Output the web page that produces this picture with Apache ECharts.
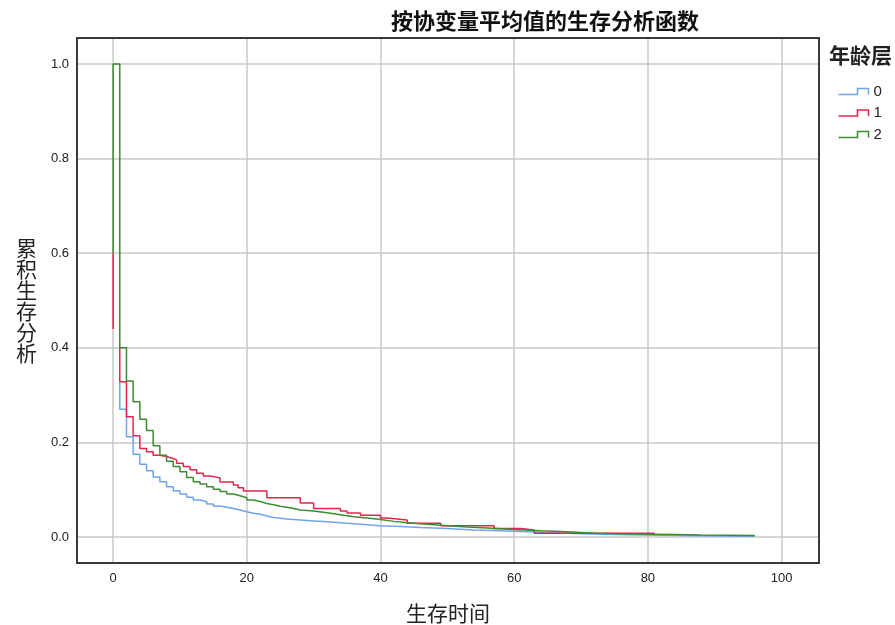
<!DOCTYPE html>
<html><head><meta charset="utf-8">
<script src="https://cdn.jsdelivr.net/npm/echarts@6/dist/echarts.min.js"></script>
<style>html,body{margin:0;padding:0;background:#fff}#c{width:895px;height:625px}</style>
</head><body><div id="c"></div>
<script>
// ---- data ----
const groupNames = ['0', '1', '2'];
const xTickValues = [0, 20, 40, 60, 80, 100];
const yTickValues = [0.0, 0.2, 0.4, 0.6, 0.8, 1.0];

// 年龄层 0 (blue)
const t0 = [1, 1, 2, 3, 4, 5, 6, 7, 8, 9, 10, 11, 12, 13, 14, 15, 16, 17, 18, 19, 20, 21, 22, 23, 24, 26, 28, 30, 32, 34, 36, 38, 40, 43, 46, 50, 54, 58, 62, 66, 70, 75, 80, 85, 90, 96];
const s0 = [0.328, 0.270, 0.212, 0.175, 0.154, 0.140, 0.127, 0.117, 0.106, 0.098, 0.091, 0.084, 0.078, 0.0745, 0.070, 0.0655, 0.063, 0.060, 0.057, 0.0535, 0.050, 0.048, 0.0445, 0.041, 0.038, 0.036, 0.034, 0.032, 0.030, 0.028, 0.026, 0.024, 0.022, 0.020, 0.018, 0.015, 0.013, 0.011, 0.009, 0.007, 0.005, 0.004, 0.003, 0.002, 0.0015, 0.001];

// 年龄层 1 (red) - first short piece at t=0, then the main curve
const t1a = [0, 0];
const s1a = [0.60, 0.44];
const t1 = [1, 1, 2, 3, 4, 5, 6, 7, 8, 9, 9.5, 10.5, 11.5, 12.5, 13.5, 14.5, 16, 18, 18.7, 19.5, 23, 28, 30, 34, 35, 37, 40, 41, 44, 49, 57, 61, 63, 81];
const s1 = [0.400, 0.328, 0.254, 0.214, 0.187, 0.180, 0.173, 0.170, 0.166, 0.163, 0.156, 0.149, 0.142, 0.135, 0.129, 0.125, 0.116, 0.110, 0.104, 0.097, 0.083, 0.072, 0.060, 0.055, 0.0505, 0.046, 0.040, 0.036, 0.029, 0.024, 0.018, 0.015, 0.008, 0.008];

// 年龄层 2 (green)
const t2 = [0, 0, 1, 2, 3, 4, 5, 6, 7, 8, 9, 10, 11, 12, 13, 14, 15, 16, 17, 18, 19, 20, 21, 22, 23, 24, 25, 26, 27, 28, 30, 32, 34, 36, 38, 40, 42, 44, 47, 50, 53, 56, 60, 64, 68, 72, 76, 80, 84, 88, 92, 96];
const s2 = [0.60, 1.00, 0.400, 0.330, 0.286, 0.249, 0.225, 0.193, 0.173, 0.160, 0.149, 0.138, 0.126, 0.117, 0.112, 0.106, 0.101, 0.096, 0.091, 0.087, 0.083, 0.078, 0.075, 0.071, 0.068, 0.065, 0.063, 0.060, 0.057, 0.055, 0.051, 0.047, 0.043, 0.040, 0.037, 0.033, 0.030, 0.027, 0.024, 0.021, 0.019, 0.016, 0.013, 0.011, 0.008, 0.007, 0.006, 0.005, 0.004, 0.0035, 0.003, 0.002];

const colors = ['#6fa4ec', '#e0264c', '#3c8c30'];
const pairs = (t, s) => t.map((v, i) => [v, s[i]]);
const X_MIN = -5.4, X_MAX = 105.6, Y_MIN = -0.055, Y_MAX = 1.055;

const chart = echarts.init(document.getElementById('c'), null, {renderer: 'canvas'});
const lineSeries = (name, data, color, z) => ({
  name, type: 'line', data, step: 'end', showSymbol: false, symbol: 'none',
  lineStyle: {color, width: 1.5}, itemStyle: {color}, z, animation: false, silent: true
});
const frameAxis = {show: true, onZero: false, lineStyle: {color: '#3a3a3a', width: 2}};
const hiddenParts = {axisTick: {show: false}, axisLabel: {show: false}, splitLine: {show: false}};
chart.setOption({
  animation: false,
  backgroundColor: '#ffffff',
  title: {
    text: '按协变量平均值的生存分析函数', left: 386, top: 5,
    textStyle: {fontSize: 22, fontWeight: 'bold', color: '#111', fontFamily: 'Noto Sans CJK SC'}
  },
  grid: {left: 77, right: 76, top: 38, bottom: 62, show: false, outerBoundsMode: 'none'},
  legend: {
    orient: 'vertical', left: 836, top: 84, padding: 0, itemWidth: 30, itemHeight: 6, itemGap: 6.5,
    icon: 'path://M0,6 L19,6 L19,0 L30,0 L30,6',
    data: groupNames.map((n, i) => ({name: n, itemStyle: {color: 'none', borderColor: colors[i], borderWidth: 1.5}})),
    textStyle: {fontSize: 15, color: '#222', fontFamily: 'Liberation Sans'},
    selectedMode: false
  },
  graphic: [{
    type: 'text', left: 829, top: 45,
    style: {text: '年龄层', fontSize: 21, fontWeight: 'bold', fill: '#222', fontFamily: 'Noto Sans CJK SC'}
  }],
  xAxis: [{
    type: 'value', min: X_MIN, max: X_MAX, splitNumber: 5,
    name: '生存时间', nameLocation: 'middle', nameGap: 40,
    nameTextStyle: {fontSize: 21, color: '#222', fontFamily: 'Noto Sans CJK SC'},
    axisLine: frameAxis, axisTick: {show: false},
    axisLabel: {showMinLabel: false, showMaxLabel: false, fontSize: 13, color: '#222', fontFamily: 'Liberation Sans', margin: 9,
      formatter: v => xTickValues.includes(Math.round(v)) ? String(Math.round(v)) : ''},
    splitLine: {show: true, lineStyle: {color: '#c8c8c8', width: 1.5}}
  }, {
    type: 'value', position: 'top', min: X_MIN, max: X_MAX, axisLine: frameAxis, ...hiddenParts
  }],
  yAxis: [{
    type: 'value', min: Y_MIN, max: Y_MAX, splitNumber: 5,
    name: '累\n积\n生\n存\n分\n析', nameLocation: 'middle', nameGap: 40, nameRotate: 0,
    nameTextStyle: {fontSize: 21, lineHeight: 21, color: '#222', fontFamily: 'Noto Sans CJK SC', align: 'right', verticalAlign: 'middle'},
    axisLine: frameAxis, axisTick: {show: false},
    axisLabel: {showMinLabel: false, showMaxLabel: false, fontSize: 13, color: '#222', fontFamily: 'Liberation Sans', margin: 8,
      formatter: v => yTickValues.some(t => Math.abs(t - v) < 1e-6) ? v.toFixed(1) : ''},
    splitLine: {show: true, lineStyle: {color: '#c8c8c8', width: 1.5}}
  }, {
    type: 'value', position: 'right', min: Y_MIN, max: Y_MAX, axisLine: frameAxis, ...hiddenParts
  }],
  series: [
    lineSeries('0', pairs(t0, s0), colors[0], 2),
    lineSeries('1', pairs(t1, s1), colors[1], 3),
    lineSeries('1 (t=0)', pairs(t1a, s1a), colors[1], 3),
    lineSeries('2', pairs(t2, s2), colors[2], 4)
  ]
});
</script></body></html>
